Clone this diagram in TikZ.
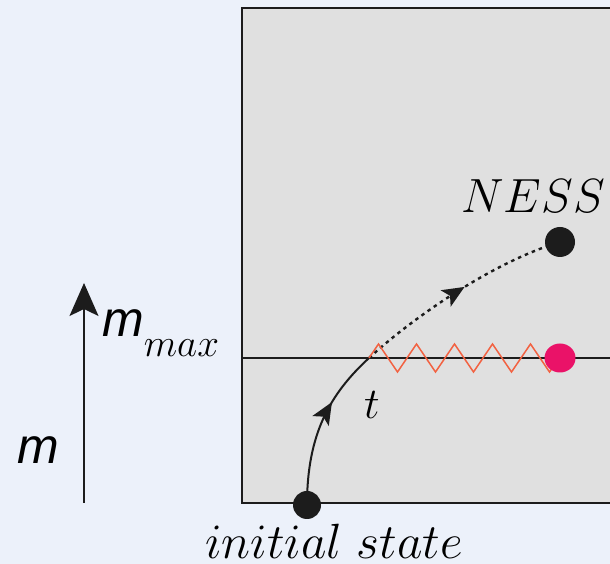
\RequirePackage{fix-cm}
\documentclass[tikz,border=0pt]{standalone}
\usepackage{fontspec}
\newfontfamily\msans{Liberation Sans}
\usetikzlibrary{arrows.meta}
\usetikzlibrary{decorations.markings, decorations.pathmorphing, math}
\definecolor{mybg}{RGB}{236, 241, 250}
\definecolor{mybox}{RGB}{224, 224, 224}
\definecolor{mydark}{RGB}{28, 28, 28}
\definecolor{myorange}{RGB}{242, 98, 66}
\definecolor{mypink}{RGB}{234, 18, 104}

\begin{document}
\begin{tikzpicture}[x=1pt,y=1pt]
\tikzmath{
\W=610;
\H=564;
\bx=242;
\by=61;
\bt=556;
\hm=206;
\ax=84;
\rd=14;
}
\useasboundingbox (0,0) rectangle (\W,\H);
\clip (0,0) rectangle (\W,\H);
\fill[mybg] (0,0) rectangle (\W,\H);

\coordinate (Init) at (307,59);
\coordinate (Cross) at (369,\hm);
\coordinate (NESS) at (560,322);
\coordinate (Pink) at (560,\hm);

%box
\draw[line width=2.2pt,draw=mydark,fill=mybox] (\bx,\by) rectangle (\W+10,\bt);
\draw[line width=1.6pt,mydark] (\bx,\hm) -- (\W+10,\hm);

%axis
\draw[-{Stealth[length=33pt,width=29pt,inset=7pt]},line width=1.5pt,mydark] (\ax,\by) -- (\ax,281);
\node (mlab) at (38,114) {\fontsize{50}{54}\selectfont\msans\itshape m};
\node[anchor=base west,inner sep=0pt] (mmax) at (102,227) {\fontsize{50}{54}\selectfont\msans\itshape m\raisebox{-20pt}{\fontsize{39}{42}\selectfont$max$}};

%path
\draw[line width=2pt,mydark,decoration={markings,mark=at position 0.65 with {\arrow{Stealth[length=22pt,width=19pt,inset=5pt]}}},postaction={decorate}]
  (Init) .. controls (307,130) and (330,170) .. (Cross);
\draw[line width=2.4pt,mydark,dash pattern=on 3.5pt off 4pt,decoration={markings,mark=at position 0.53 with {\arrow{Stealth[length=22pt,width=19pt,inset=5pt]}}},postaction={decorate}]
  (Cross) .. controls (409,243) and (490,301) .. (NESS);

\draw[line width=1.5pt,myorange,decorate,decoration={zigzag,segment length=38pt,amplitude=14pt}] (Cross) -- (Pink);

\fill[mydark] (Init) circle (\rd);
\fill[mydark] (NESS) circle (15);
\fill[mypink] (Pink) ellipse (15.5 and 14.5);

\node (tlab) at (372,159) {\fontsize{44}{48}\selectfont$t$};
\node[anchor=base] (nesslab) at (533,351) {\fontsize{48}{52}\selectfont$NESS$};
\node[anchor=base,inner sep=0pt] (initlab) at (334,5) {\fontsize{49.5}{54}\selectfont$initial\ state$};
\end{tikzpicture}
\end{document}
